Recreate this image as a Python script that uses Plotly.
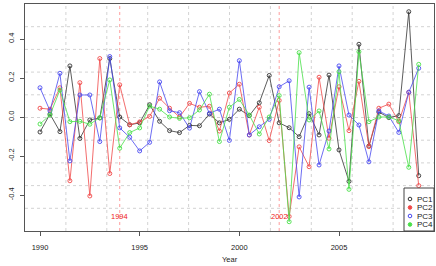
import plotly.graph_objects as go

years = [1990.0, 1990.5, 1991.0, 1991.5, 1992.0, 1992.5, 1993.0, 1993.5, 1994.0, 1994.5,
         1995.0, 1995.5, 1996.0, 1996.5, 1997.0, 1997.5, 1998.0, 1998.5, 1999.0, 1999.5,
         2000.0, 2000.5, 2001.0, 2001.5, 2002.0, 2002.5, 2003.0, 2003.5, 2004.0, 2004.5,
         2005.0, 2005.5, 2006.0, 2006.5, 2007.0, 2007.5, 2008.0, 2008.5, 2009.0]

pc1 = [-0.077, 0.015, -0.075, 0.262, -0.110, -0.015, -0.005, 0.300, 0.000, -0.040,
       -0.030, 0.063, -0.022, -0.070, -0.080, -0.043, -0.045, 0.015, -0.030, -0.012,
       0.040, 0.007, 0.073, 0.213, -0.030, -0.055, -0.101, 0.017, -0.092, 0.215,
       -0.169, -0.330, 0.373, -0.149, 0.025, -0.003, 0.007, 0.540, -0.301]
pc2 = [0.045, 0.040, 0.150, -0.327, 0.176, -0.405, 0.300, -0.290, 0.165, -0.040,
       -0.025, 0.003, 0.096, 0.045, 0.000, 0.070, 0.050, 0.055, -0.072, 0.123,
       0.168, -0.092, 0.050, -0.121, 0.085, -0.510, -0.153, -0.255, 0.204, -0.109,
       0.155, -0.070, 0.183, -0.152, 0.045, 0.066, -0.024, 0.127, -0.352]
pc3 = [0.150, 0.032, 0.224, -0.225, 0.113, 0.113, -0.126, 0.310, -0.056, -0.104,
       -0.174, -0.130, 0.180, 0.032, 0.022, -0.057, 0.130, 0.019, 0.040, -0.120,
       0.289, -0.092, -0.050, -0.012, 0.155, 0.186, -0.410, 0.153, -0.246, -0.072,
       0.262, 0.010, -0.041, -0.230, 0.031, 0.005, -0.079, 0.127, 0.250]
pc4 = [-0.036, 0.010, 0.138, -0.024, -0.022, -0.037, -0.003, 0.190, -0.160, -0.080,
       -0.056, 0.056, 0.040, 0.000, -0.007, -0.004, 0.036, 0.117, -0.126, 0.050,
       0.090, 0.010, -0.087, 0.000, 0.110, -0.537, 0.330, -0.015, 0.031, -0.164,
       0.232, -0.371, 0.335, -0.024, 0.000, 0.000, -0.019, -0.258, 0.270]

series_names = ["PC1", "PC2", "PC3", "PC4"]
series_colors = ["#333333", "#F04848", "#4848F0", "#48E048"]
legend_filled = [False, True, False, True]

event_years = [1994, 2002]
event_labels = ["1994", "2002"]
event_label_y = -0.51

x_ticks = [1990, 1995, 2000, 2005]
y_ticks = [-0.4, -0.2, 0.0, 0.2, 0.4]
y_tick_text = ["-0.4", "-0.2", "0.0", "0.2", "0.4"]

FONT = "Liberation Sans, Arial, sans-serif"
W, H = 436, 266
ML, MR, MT, MB = 25, 2, 4, 35
PW, PH = W - ML - MR, H - MT - MB

fig = go.Figure()

for name, vals, col in zip(series_names, [pc1, pc2, pc3, pc4], series_colors):
    fig.add_trace(go.Scatter(
        x=years, y=vals, mode="lines+markers", name=name, showlegend=False,
        line=dict(color=col, width=0.8),
        marker=dict(symbol="circle-open", size=4, color=col, line=dict(width=0.9, color=col)),
    ))

shapes = []
# dotted grid: 10 x 10 divisions of the plot region
for i in range(1, 10):
    shapes.append(dict(type="line", xref="paper", yref="paper", x0=i / 10, x1=i / 10, y0=0, y1=1,
                       line=dict(color="#D3D3D3", width=1, dash="dot"), layer="below"))
    shapes.append(dict(type="line", xref="paper", yref="paper", x0=0, x1=1, y0=i / 10, y1=i / 10,
                       line=dict(color="#D3D3D3", width=1, dash="dot"), layer="below"))
# event lines
for ev in event_years:
    shapes.append(dict(type="line", xref="x", yref="paper", x0=ev, x1=ev, y0=0, y1=1,
                       line=dict(color="rgba(255,90,90,0.6)", width=1, dash="dot"), layer="below"))

annotations = []
for ev, lab in zip(event_years, event_labels):
    annotations.append(dict(x=ev, y=event_label_y, xref="x", yref="y", text=lab, showarrow=False,
                            font=dict(family=FONT, size=7.5, color="#EE2020"),
                            xanchor="center", yanchor="middle"))

# legend box (drawn manually, R style)
lx0 = (404 - ML) / PW
ly1 = (231 - 188) / PH
shapes.append(dict(type="rect", xref="paper", yref="paper", x0=lx0, x1=1.0, y0=0, y1=ly1,
                   line=dict(color="#444444", width=1), fillcolor="white", layer="above"))
entry_py = [199, 207.5, 216, 224.5]
sym_px = 410
for name, col, filled, py in zip(series_names, series_colors, legend_filled, entry_py):
    yp = (231 - py) / PH
    xp = (sym_px - ML) / PW
    r = 1.8
    shapes.append(dict(type="circle", xref="paper", yref="paper",
                       xsizemode="pixel", ysizemode="pixel", xanchor=xp, yanchor=yp,
                       x0=-r, x1=r, y0=-r, y1=r,
                       line=dict(color=col, width=1),
                       fillcolor=col if filled else "rgba(0,0,0,0)", layer="above"))
    annotations.append(dict(x=(415 - ML) / PW, y=yp, xref="paper", yref="paper", text=name,
                            showarrow=False, xanchor="left", yanchor="middle",
                            font=dict(family=FONT, size=8, color="#222222")))

annotations.append(dict(x=0.5, y=(231 - 259) / PH, xref="paper", yref="paper", text="Year",
                        showarrow=False, xanchor="center", yanchor="middle",
                        font=dict(family=FONT, size=7.5, color="#222222")))

px_per_year = (339 - 40) / 15
x0r = 1990 - (40 - ML) / px_per_year
x1r = x0r + PW / px_per_year
px_per_unit = 195.0
y1r = (117 - MT) / px_per_unit
y0r = -(MT + PH - 117) / px_per_unit

fig.update_layout(
    width=W, height=H, margin=dict(l=ML, r=MR, t=MT, b=MB, pad=0),
    paper_bgcolor="white", plot_bgcolor="white",
    font=dict(family=FONT, size=7.5, color="#222222"),
    showlegend=False,
    shapes=shapes, annotations=annotations,
    xaxis=dict(range=[x0r, x1r], tickvals=x_ticks, ticktext=[str(t) for t in x_ticks],
               showgrid=False, zeroline=False, showline=True, mirror=True,
               linecolor="#555555", linewidth=1, ticks="outside", ticklen=4,
               tickcolor="#555555", tickfont=dict(size=7.5), ticklabelstandoff=5),
    yaxis=dict(range=[y0r, y1r], tickvals=y_ticks, ticktext=y_tick_text,
               showgrid=False, zeroline=False, showline=True, mirror=True,
               linecolor="#555555", linewidth=1, ticks="outside", ticklen=4,
               tickcolor="#555555", tickangle=-90, tickfont=dict(size=7.5), ticklabelstandoff=3),
)

fig.write_html("out.html")
